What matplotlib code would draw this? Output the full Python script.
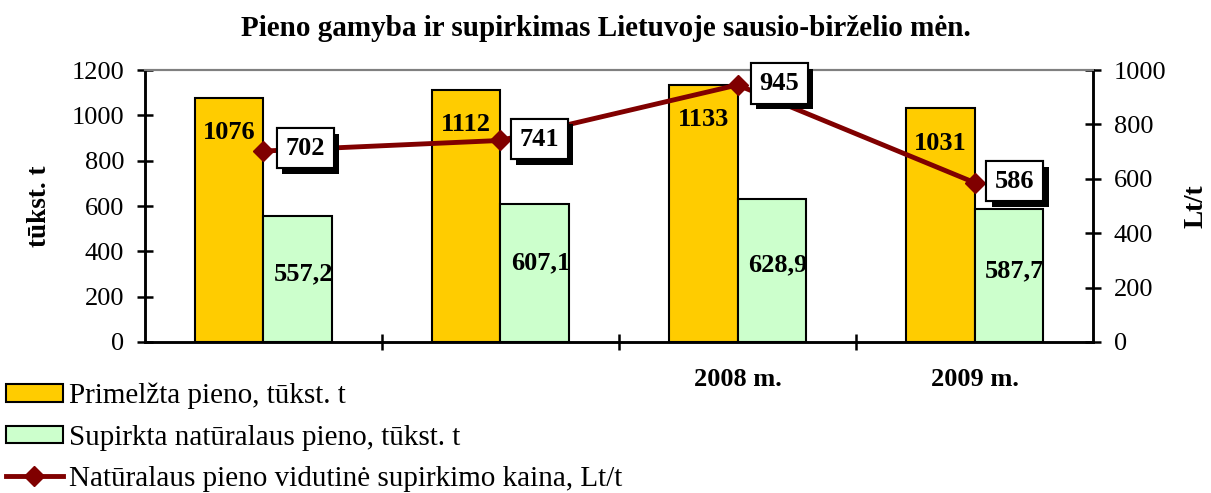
import matplotlib
matplotlib.use("Agg")
import matplotlib.pyplot as plt
import matplotlib.patheffects as pe
from matplotlib.patches import Patch
from matplotlib.lines import Line2D
import numpy as np

plt.rcParams['font.family'] = ['Liberation Serif', 'DejaVu Serif']

categories = ["", "", "2008 m.", "2009 m."]
produced = [1076, 1112, 1133, 1031]
purchased = [557.2, 607.1, 628.9, 587.7]
price = [702, 741, 945, 586]
produced_labels = ["1076", "1112", "1133", "1031"]
purchased_labels = ["557,2", "607,1", "628,9", "587,7"]
price_labels = ["702", "741", "945", "586"]

title = "Pieno gamyba ir supirkimas Lietuvoje sausio-birželio mėn."
ylabel_left = "tūkst. t"
ylabel_right = "Lt/t"
legend_labels = ["Primelžta pieno, tūkst. t",
                 "Supirkta natūralaus pieno, tūkst. t",
                 "Natūralaus pieno vidutinė supirkimo kaina, Lt/t"]

orange = "#FFCC00"
green = "#CCFFCC"
dark_red = "#800000"

fig = plt.figure(figsize=(12.11, 4.93), dpi=100)
ax = fig.add_axes([0.1197, 0.3063, 0.7829, 0.5517])
ax2 = ax.twinx()

x = np.arange(len(categories))
w = 0.29
ax.bar(x - w / 2, produced, w, color=orange, edgecolor="black", linewidth=1.5, zorder=2)
ax.bar(x + w / 2, purchased, w, color=green, edgecolor="black", linewidth=1.5, zorder=2)

ax.set_xlim(-0.5, len(categories) - 0.5)
ax.set_ylim(0, 1200)
ax.set_yticks(np.arange(0, 1201, 200))
ax2.set_ylim(0, 1000)
ax2.set_yticks(np.arange(0, 1001, 200))

for i, v in enumerate(produced):
    ax.annotate(produced_labels[i], (x[i] - w / 2, v), xytext=(0, -25), textcoords="offset points",
                ha="center", va="center", fontsize=19, fontweight="bold", zorder=5)
green_dy = [-42, -42, -47, -45]
for i, v in enumerate(purchased):
    ax.annotate(purchased_labels[i], (x[i] + w / 2, v), xytext=(4, green_dy[i]), textcoords="offset points",
                ha="center", va="center", fontsize=19, fontweight="bold", zorder=5)

ax2.plot(x, price, color=dark_red, linewidth=3.5, marker="D", markersize=10,
         markerfacecolor=dark_red, markeredgecolor=dark_red, zorder=4)

offsets = [(30, 2), (28, 1), (30, 1), (29, 1)]
for i, v in enumerate(price):
    t = ax2.annotate(price_labels[i], (x[i], v), xytext=offsets[i], textcoords="offset points",
                     ha="center", va="center", fontsize=19, fontweight="bold", zorder=6,
                     bbox=dict(boxstyle="square,pad=0.33", facecolor="white", edgecolor="black", linewidth=1.5))
    t.get_bbox_patch().set_path_effects([pe.withSimplePatchShadow(offset=(4, -4), shadow_rgbFace="black", alpha=1.0), pe.Normal()])

ax.set_xticks(x)
ax.set_xticklabels(categories, fontsize=19, fontweight="bold")
ax.tick_params(axis="x", which="major", length=0, pad=19)
ax.set_xticks(np.arange(0.5, len(categories) - 0.5, 1), minor=True)
ax.tick_params(axis="x", which="minor", length=12, direction="inout", width=1.8)

ax.tick_params(axis="y", labelsize=19, length=12, direction="inout", width=1.8, pad=9)
ax2.tick_params(axis="y", labelsize=19, length=12, direction="inout", width=1.8, pad=9)

for a in (ax, ax2):
    a.spines["left"].set_linewidth(1.8)
    a.spines["right"].set_linewidth(1.8)
    a.spines["bottom"].set_linewidth(1.8)
    a.spines["top"].set_color("#808080")
    a.spines["top"].set_linewidth(1.5)

ax.set_ylabel(ylabel_left, fontsize=19.5, fontweight="bold", labelpad=14)
ax2.set_ylabel(ylabel_right, fontsize=19.5, fontweight="bold", labelpad=12)

fig.text(0.5, 0.943, title, ha="center", va="center", fontsize=21, fontweight="bold")

handles = [Patch(facecolor=orange, edgecolor="black", linewidth=1.5),
           Patch(facecolor=green, edgecolor="black", linewidth=1.5),
           Line2D([0], [0], color=dark_red, linewidth=3.5, marker="D", markersize=10)]
fig.legend(handles, legend_labels, loc="upper left", bbox_to_anchor=(0.0, 0.235),
           frameon=False, fontsize=21, handlelength=1.95, handleheight=0.55, handletextpad=0.2,
           labelspacing=0.52, borderaxespad=0.0, borderpad=0.2)

fig.savefig("out.png", dpi=100)
